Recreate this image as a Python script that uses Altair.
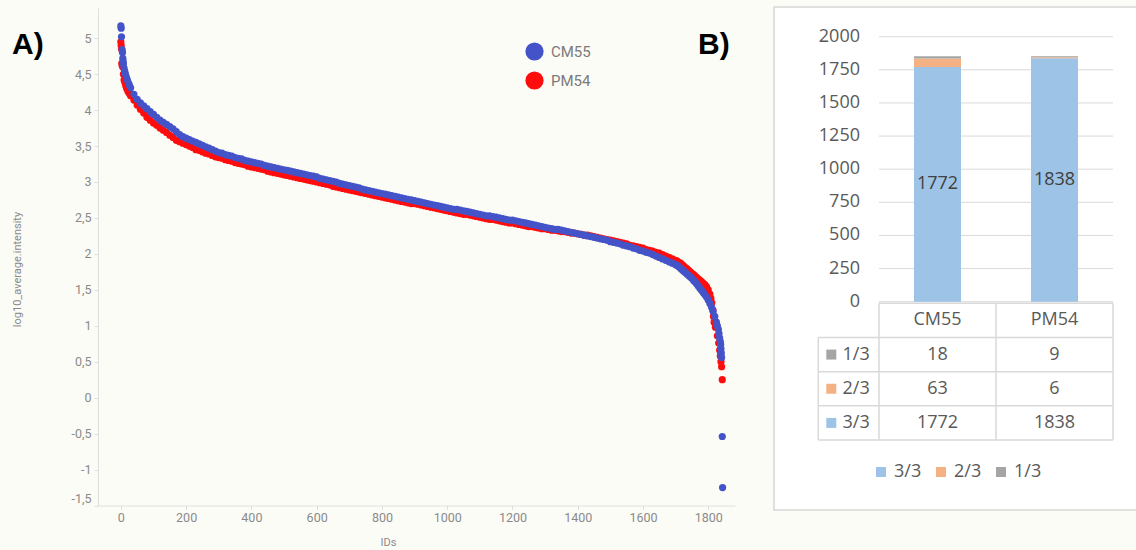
import altair as alt
import pandas as pd

# ---------------- Panel A data (rank IDs and log10 intensities) ----------------
cm55_ids = [0, 1, 2, 4, 5, 6, 7, 8, 10, 12, 14, 17, 20, 23, 26] + list(range(30, 1701, 10)) + \
    list(range(1705, 1826, 5)) + [1828, 1831, 1833, 1835, 1837, 1838, 1839, 1840, 1841, 1843, 1844]
cm55_vals = [5.17, 5.14, 5.02, 4.84, 4.80, 4.72, 4.68, 4.64, 4.58, 4.54, 4.50, 4.46, 4.42, 4.38, 4.35,
             4.31, 4.22, 4.15, 4.10, 4.06, 4.02, 3.98, 3.94, 3.90, 3.86, 3.83, 3.80, 3.77, 3.74, 3.70, 3.66, 3.63, 3.61,
             3.59, 3.57, 3.55, 3.53, 3.51, 3.49, 3.47, 3.45, 3.43, 3.41,
             3.40, 3.38, 3.37, 3.36, 3.34, 3.33, 3.32, 3.30, 3.29, 3.28,
             3.27, 3.26, 3.25, 3.23, 3.22, 3.21, 3.20, 3.19, 3.18, 3.17,
             3.16, 3.15, 3.14, 3.13, 3.12, 3.11, 3.10,
             3.09, 3.08, 3.07, 3.05, 3.04, 3.03, 3.02, 3.01, 3.00, 2.98, 2.97, 2.96, 2.95,
             2.94, 2.93, 2.92, 2.90, 2.89,
             2.88, 2.87, 2.86, 2.85, 2.84, 2.83, 2.82, 2.81, 2.80, 2.79, 2.78, 2.77, 2.76, 2.75, 2.74,
             2.73, 2.72, 2.71, 2.70, 2.69, 2.68,
             2.67, 2.66, 2.65, 2.64, 2.63, 2.62, 2.62, 2.61, 2.60, 2.59, 2.58, 2.57, 2.56, 2.55,
             2.54, 2.53, 2.53, 2.52, 2.51, 2.50,
             2.49, 2.48, 2.47, 2.47, 2.46, 2.45, 2.44, 2.43, 2.42, 2.41, 2.40, 2.39, 2.38, 2.37,
             2.36, 2.35, 2.34, 2.34, 2.33, 2.32, 2.31, 2.30, 2.29, 2.28,
             2.27, 2.26, 2.25, 2.24, 2.23, 2.22, 2.21, 2.20, 2.19, 2.17,
             2.16, 2.15, 2.14, 2.12, 2.11, 2.10, 2.08, 2.07, 2.05, 2.04,
             2.02, 2.01, 1.99, 1.97, 1.95, 1.93, 1.91, 1.89, 1.87, 1.85,
             1.84, 1.82, 1.80, 1.78, 1.76, 1.74, 1.72, 1.70, 1.68, 1.66, 1.63, 1.61, 1.58, 1.55, 1.52,
             1.49, 1.46, 1.43, 1.40, 1.36, 1.31, 1.26, 1.20, 1.13, 1.05,
             1.00, 0.95, 0.89, 0.83, 0.78, 0.74, 0.68, 0.62, 0.56, -0.54, -1.25]

pm54_ids = [0, 1, 2, 3, 4, 6, 8, 10, 12, 15, 18, 22, 26] + list(range(30, 1701, 10)) + \
    list(range(1705, 1796, 5)) + [1800, 1805, 1808, 1811, 1814, 1816, 1818, 1822, 1828, 1832, 1835, 1837, 1839, 1841, 1843]
pm54_vals = [4.95, 4.90, 4.85, 4.65, 4.62, 4.60, 4.50, 4.42, 4.39, 4.34, 4.30, 4.26, 4.23,
             4.20, 4.14, 4.07, 4.01, 3.96, 3.90, 3.86, 3.82, 3.79, 3.75, 3.72, 3.69, 3.65, 3.62, 3.58, 3.56, 3.54, 3.52,
             3.50, 3.48, 3.45, 3.44, 3.42, 3.40, 3.39, 3.37, 3.35, 3.34,
             3.33, 3.31, 3.30, 3.29, 3.27, 3.26, 3.25, 3.24, 3.22, 3.21,
             3.20, 3.19, 3.18, 3.17, 3.15, 3.14, 3.13, 3.12, 3.11, 3.10,
             3.09, 3.08, 3.07, 3.06, 3.05, 3.04, 3.03,
             3.02, 3.01, 3.00, 2.99, 2.98, 2.97, 2.96, 2.94, 2.93, 2.92, 2.91, 2.90, 2.89,
             2.88, 2.87, 2.86, 2.85, 2.84,
             2.83, 2.82, 2.81, 2.80, 2.79, 2.78, 2.77, 2.76, 2.75, 2.74, 2.73, 2.72, 2.71, 2.70, 2.70,
             2.69, 2.68, 2.67, 2.66, 2.65, 2.64,
             2.63, 2.62, 2.61, 2.60, 2.59, 2.58, 2.57, 2.56, 2.55, 2.55, 2.54, 2.53, 2.52, 2.51,
             2.50, 2.49, 2.48, 2.48, 2.47, 2.46,
             2.45, 2.44, 2.43, 2.43, 2.42, 2.41, 2.40, 2.39, 2.38, 2.38, 2.37, 2.36, 2.35, 2.35,
             2.34, 2.33, 2.33, 2.32, 2.31, 2.31, 2.30, 2.29, 2.29, 2.28,
             2.27, 2.26, 2.26, 2.25, 2.24, 2.23, 2.22, 2.21, 2.20, 2.19,
             2.18, 2.17, 2.16, 2.15, 2.14, 2.12, 2.11, 2.10, 2.09, 2.08,
             2.06, 2.05, 2.04, 2.02, 2.01, 1.99, 1.97, 1.95, 1.93, 1.91,
             1.90, 1.88, 1.87, 1.85, 1.83, 1.81, 1.79, 1.77, 1.75, 1.73, 1.71, 1.69, 1.67, 1.65, 1.63,
             1.61, 1.59, 1.57, 1.54,
             1.50, 1.44, 1.38, 1.32, 1.22, 1.13, 1.05, 0.98, 0.86, 0.76, 0.66, 0.58, 0.50, 0.43, 0.25]

assert len(cm55_ids) == len(cm55_vals), (len(cm55_ids), len(cm55_vals))
assert len(pm54_ids) == len(pm54_vals), (len(pm54_ids), len(pm54_vals))

series_names = ["CM55", "PM54"]
series_colors = ["#4454c8", "#ff0d0d"]
y_ticks_a = [-1.5, -1, -0.5, 0, 0.5, 1, 1.5, 2, 2.5, 3, 3.5, 4, 4.5, 5]
x_ticks_a = [0, 200, 400, 600, 800, 1000, 1200, 1400, 1600, 1800]

# ---------------- Panel B data ----------------
samples = ["CM55", "PM54"]
levels = ["3/3", "2/3", "1/3"]
counts_cm55 = [1772, 63, 18]
counts_pm54 = [1838, 6, 9]
level_colors = ["#9dc3e6", "#f4b183", "#a5a5a5"]
bar_ticks = [0, 250, 500, 750, 1000, 1250, 1500, 1750, 2000]
table_rows = ["header", "1/3", "2/3", "3/3"]

# ---------------- layout constants (page pixels) ----------------
OX, OY = 98, 8            # origin of panel A plot area
W, H = 637, 497.5
FONT_A = "Roboto"
FONT_B = "Open Sans"
GRAY_A = "#8a8a8a"
LINE_B = "#d9d9d9"

def px(x):
    return x - OX

def py(y):
    return y - OY

# ---------------- data frames ----------------
scatter_df = pd.concat([
    pd.DataFrame({"id": pm54_ids, "val": pm54_vals, "series": "PM54"}),
    pd.DataFrame({"id": cm55_ids, "val": cm55_vals, "series": "CM55"}),
], ignore_index=True)

bar_rows = []
for s, cnts in zip(samples, [counts_cm55, counts_pm54]):
    for i, (lev, c) in enumerate(zip(levels, cnts)):
        bar_rows.append({"sample": s, "level": lev, "count": c, "ord": i})
bar_df = pd.DataFrame(bar_rows)
tick_df = pd.DataFrame({"v": bar_ticks})
header_df = pd.DataFrame({"sample": samples, "row": "header"})
lev_df = pd.DataFrame({"level": levels})
one = pd.DataFrame({"k": [0]})

bar_x = alt.Scale(domain=samples, range=[px(879), px(1113)], paddingInner=0, paddingOuter=0)
bar_y = alt.Scale(domain=[0, 2000], range=[py(301.7), py(36.7)], nice=False, zero=True)
row_y = alt.Scale(domain=table_rows, range=[py(303.3), py(440)], paddingInner=0, paddingOuter=0)
lev_color = alt.Scale(domain=levels, range=level_colors)

# ---------------- Panel A ----------------
box = alt.Chart(one).mark_rect(fill="white", stroke="#d6d6d6", strokeWidth=1.5).encode(
    x=alt.value(px(774)), x2=alt.value(px(1145)), y=alt.value(py(7)), y2=alt.value(py(510)))

scatter = alt.Chart(scatter_df).mark_circle(size=52, opacity=1).encode(
    x=alt.X("id:Q", scale=alt.Scale(domain=[-70, 1882], nice=False, zero=False),
            axis=alt.Axis(values=x_ticks_a, format="d", labelFont=FONT_A, labelFontSize=12.5,
                          labelColor=GRAY_A, domainColor="#dedede", tickColor="#dedede",
                          tickSize=4, labelPadding=2, grid=False, labelFlush=False,
                          title="IDs", titleFont=FONT_A, titleFontSize=11, titleFontWeight="normal",
                          titleColor=GRAY_A, titleX=290, titleY=31, titleBaseline="top",
                          titleAlign="center")),
    y=alt.Y("val:Q", scale=alt.Scale(domain=[-1.5, 5.42], nice=False, zero=False),
            axis=alt.Axis(values=y_ticks_a,
                          labelExpr="(datum.value < 0 ? '-' : '') + replace(format(abs(datum.value), '~g'), '.', ',')",
                          labelFont=FONT_A, labelFontSize=12.5, labelColor=GRAY_A,
                          domainColor="#dedede", tickColor="#dedede", tickSize=4, labelPadding=3,
                          grid=False, labelFlush=True,
                          title="log10_average.intensity", titleFont=FONT_A, titleFontSize=11,
                          titleFontWeight="normal", titleColor=GRAY_A, titleX=-78, titleY=261,
                          titleAngle=-90, titleAlign="center", titleBaseline="alphabetic")),
    color=alt.Color("series:N", scale=alt.Scale(domain=series_names, range=series_colors),
                    legend=alt.Legend(orient="none", legendX=427, legendY=34, title=None,
                                      symbolType="circle", symbolSize=330, symbolStrokeWidth=0,
                                      symbolOpacity=1, labelFont=FONT_A, labelFontSize=15,
                                      labelColor="#7a7a7a", labelOffset=7, rowPadding=10, padding=0)),
    order=alt.value(0),
)

label_a = alt.Chart(one).mark_text(text="A)", font="Liberation Sans", fontSize=30, fontWeight="bold",
                                   align="left", baseline="alphabetic", color="black").encode(
    x=alt.value(px(12)), y=alt.value(py(53.5)))
label_b = alt.Chart(one).mark_text(text="B)", font="Liberation Sans", fontSize=30, fontWeight="bold",
                                   align="left", baseline="alphabetic", color="black").encode(
    x=alt.value(px(698)), y=alt.value(py(53.5)))

# ---------------- Panel B ----------------
grid = alt.Chart(tick_df).mark_rule(color=LINE_B, strokeWidth=1).encode(
    y=alt.Y("v:Q", scale=bar_y, axis=None), x=alt.value(px(879)), x2=alt.value(px(1113)))

ticklabels = alt.Chart(tick_df).mark_text(align="right", baseline="middle", font=FONT_B,
                                          fontSize=18, color="#595959").encode(
    y=alt.Y("v:Q", scale=bar_y, axis=None), x=alt.value(px(860)), text="v:Q")

bars = alt.Chart(bar_df).mark_bar(size=47).encode(
    x=alt.X("sample:N", scale=bar_x, axis=None),
    y=alt.Y("count:Q", stack="zero", scale=bar_y, axis=None),
    color=alt.Color("level:N", scale=lev_color,
                    legend=alt.Legend(orient="none", direction="horizontal", legendX=px(872),
                                      legendY=py(463), title=None, symbolType="square",
                                      symbolSize=100, symbolStrokeWidth=0, symbolOpacity=1,
                                      labelFont=FONT_B, labelFontSize=18, labelColor="#595959",
                                      labelOffset=4, columnPadding=10, padding=0)),
    order=alt.Order("ord:Q", sort="ascending"),
)

bar_labels = alt.Chart(bar_df).transform_filter(alt.datum.level == "3/3").transform_calculate(
    mid="datum.count / 2").mark_text(font=FONT_B, fontSize=18, color="#404040", baseline="middle").encode(
    x=alt.X("sample:N", scale=bar_x, axis=None),
    y=alt.Y("mid:Q", scale=bar_y, axis=None),
    text="count:Q")

# table lines
h_top = alt.Chart(one).mark_rule(color=LINE_B, strokeWidth=1.5).encode(
    y=alt.value(py(303.3)), x=alt.value(px(879)), x2=alt.value(px(1113)))
h_rows = alt.Chart(lev_df).mark_rule(color=LINE_B, strokeWidth=1.5).encode(
    y=alt.Y("level:N", scale=row_y, axis=None, bandPosition=0),
    x=alt.value(px(818.3)), x2=alt.value(px(1113)))
h_bot = alt.Chart(one).mark_rule(color=LINE_B, strokeWidth=1.5).encode(
    y=alt.value(py(440)), x=alt.value(px(818.3)), x2=alt.value(px(1113)))
v_cols = alt.Chart(pd.DataFrame({"sample": samples})).mark_rule(color=LINE_B, strokeWidth=1.5).encode(
    x=alt.X("sample:N", scale=bar_x, axis=None, bandPosition=0),
    y=alt.value(py(303.3)), y2=alt.value(py(440)))
v_right = alt.Chart(one).mark_rule(color=LINE_B, strokeWidth=1.5).encode(
    x=alt.value(px(1113)), y=alt.value(py(303.3)), y2=alt.value(py(440)))
v_left = alt.Chart(one).mark_rule(color=LINE_B, strokeWidth=1.5).encode(
    x=alt.value(px(818.3)), y=alt.value(py(337.5)), y2=alt.value(py(440)))

header_txt = alt.Chart(header_df).mark_text(font=FONT_B, fontSize=18, color="#595959", baseline="middle").encode(
    x=alt.X("sample:N", scale=bar_x, axis=None),
    y=alt.Y("row:N", scale=row_y, axis=None),
    text="sample:N")

cell_txt = alt.Chart(bar_df).mark_text(font=FONT_B, fontSize=18, color="#595959", baseline="middle").encode(
    x=alt.X("sample:N", scale=bar_x, axis=None),
    y=alt.Y("level:N", scale=row_y, axis=None),
    text="count:Q")

row_sq = alt.Chart(lev_df).mark_square(size=100, opacity=1).encode(
    x=alt.value(px(831.3)),
    y=alt.Y("level:N", scale=row_y, axis=None),
    color=alt.Color("level:N", scale=lev_color, legend=None))

row_txt = alt.Chart(lev_df).mark_text(font=FONT_B, fontSize=18, color="#595959", align="left",
                                      baseline="middle").encode(
    x=alt.value(px(842.5)),
    y=alt.Y("level:N", scale=row_y, axis=None),
    text="level:N")

chart = alt.layer(
    box, scatter, label_a, label_b,
    grid, ticklabels, bars, bar_labels,
    h_top, h_rows, h_bot, v_cols, v_right, v_left,
    header_txt, cell_txt, row_sq, row_txt,
).resolve_scale(
    x="independent", y="independent", color="independent"
).properties(
    width=W, height=H,
    padding={"left": OX, "top": OY, "right": 1136 - OX - W, "bottom": 550 - OY - H},
    autosize=alt.AutoSizeParams(type="none"),
    background="#fcfcf7",
).configure_view(stroke=None)

chart.save("out.html", embed_options={"renderer": "svg", "actions": False})
